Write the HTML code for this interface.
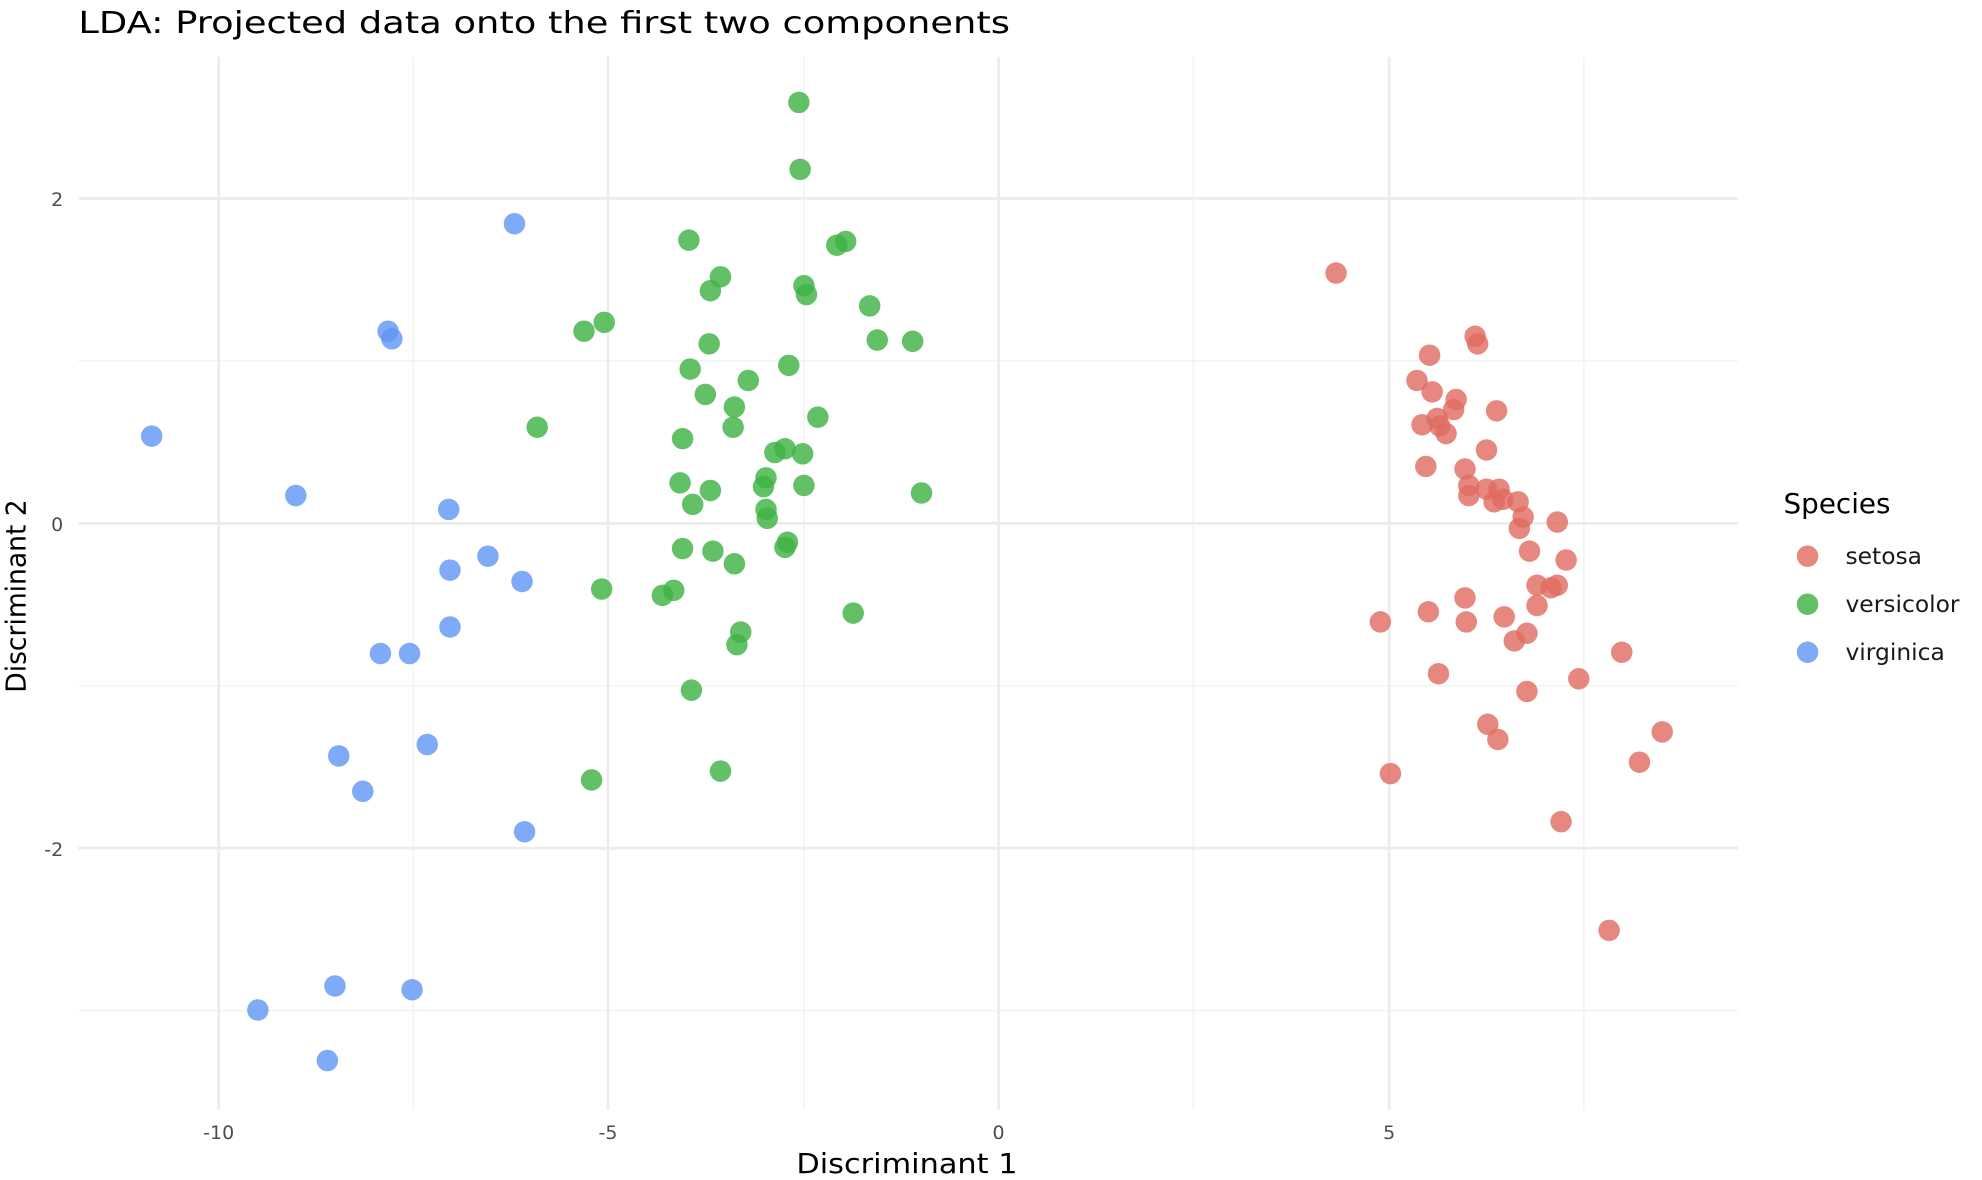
<!DOCTYPE html>
<html><head><meta charset="utf-8"><style>html,body{margin:0;padding:0;background:#fff}svg{display:block}</style></head>
<body>
<svg width="1982" height="1180" viewBox="0 0 1568 933.5" preserveAspectRatio="none" xmlns="http://www.w3.org/2000/svg" font-family="DejaVu Sans, Liberation Sans, sans-serif">
<rect width="1568" height="934" fill="#fff"/>
<g stroke="#f0f0f0" stroke-width="1">
<line x1="327" y1="45" x2="327" y2="878"/><line x1="636" y1="45" x2="636" y2="878"/><line x1="944" y1="45" x2="944" y2="878"/><line x1="1253" y1="45" x2="1253" y2="878"/>
<line x1="62" y1="285.5" x2="1375" y2="285.5"/><line x1="62" y1="542.5" x2="1375" y2="542.5"/><line x1="62" y1="799.5" x2="1375" y2="799.5"/>
</g>
<g stroke="#ebebeb" stroke-width="2">
<line x1="173" y1="45" x2="173" y2="878"/><line x1="481" y1="45" x2="481" y2="878"/><line x1="790" y1="45" x2="790" y2="878"/><line x1="1099" y1="45" x2="1099" y2="878"/>
<line x1="62" y1="157" x2="1375" y2="157"/><line x1="62" y1="414" x2="1375" y2="414"/><line x1="62" y1="671" x2="1375" y2="671"/>
</g>
<text x="62" y="26" font-size="24" fill="#000" textLength="737" lengthAdjust="spacingAndGlyphs">LDA: Projected data onto the first two components</text>
<g font-size="15" fill="#4d4d4d" text-anchor="middle">
<text x="173" y="901">-10</text><text x="481" y="901">-5</text><text x="790" y="901">0</text><text x="1099" y="901">5</text>
</g>
<g font-size="15" fill="#4d4d4d" text-anchor="end">
<text x="50" y="163">2</text><text x="50" y="420">0</text><text x="50" y="677">-2</text>
</g>
<text x="630" y="928" font-size="22" textLength="175" lengthAdjust="spacingAndGlyphs">Discriminant 1</text>
<text transform="translate(20,548) rotate(-90)" font-size="22" textLength="153" lengthAdjust="spacingAndGlyphs">Discriminant 2</text>
<text x="1411" y="406" font-size="22">Species</text>
<g font-size="18.5" fill="#1a1a1a">
<text x="1460" y="446">setosa</text><text x="1460" y="484">versicolor</text><text x="1460" y="522">virginica</text>
</g>
<circle cx="1430" cy="440" r="8.5" fill="#e06a5f" fill-opacity="0.8"/>
<circle cx="1430" cy="478" r="8.5" fill="#3fb244" fill-opacity="0.82"/>
<circle cx="1430" cy="516" r="8.5" fill="#5f95f5" fill-opacity="0.8"/>
<g fill="#5f95f5" fill-opacity="0.8">
<circle cx="120" cy="345" r="8.5"/><circle cx="234" cy="392" r="8.5"/><circle cx="407" cy="177" r="8.5"/><circle cx="307" cy="262" r="8.5"/><circle cx="310" cy="268" r="8.5"/><circle cx="355" cy="403" r="8.5"/><circle cx="386" cy="440" r="8.5"/><circle cx="356" cy="451" r="8.5"/><circle cx="413" cy="460" r="8.5"/><circle cx="356" cy="496" r="8.5"/><circle cx="301" cy="517" r="8.5"/><circle cx="324" cy="517" r="8.5"/><circle cx="338" cy="589" r="8.5"/><circle cx="268" cy="598" r="8.5"/><circle cx="287" cy="626" r="8.5"/><circle cx="415" cy="658" r="8.5"/><circle cx="265" cy="780" r="8.5"/><circle cx="326" cy="783" r="8.5"/><circle cx="204" cy="799" r="8.5"/><circle cx="259" cy="839" r="8.5"/>
</g>
<g fill="#3fb244" fill-opacity="0.82">
<circle cx="632" cy="81" r="8.5"/><circle cx="633" cy="134" r="8.5"/><circle cx="545" cy="190" r="8.5"/><circle cx="662" cy="194" r="8.5"/><circle cx="669" cy="191" r="8.5"/><circle cx="570" cy="219" r="8.5"/><circle cx="562" cy="230" r="8.5"/><circle cx="636" cy="226" r="8.5"/><circle cx="638" cy="233" r="8.5"/><circle cx="688" cy="242" r="8.5"/><circle cx="462" cy="262" r="8.5"/><circle cx="478" cy="255" r="8.5"/><circle cx="561" cy="272" r="8.5"/><circle cx="694" cy="269" r="8.5"/><circle cx="722" cy="270" r="8.5"/><circle cx="546" cy="292" r="8.5"/><circle cx="624" cy="289" r="8.5"/><circle cx="592" cy="301" r="8.5"/><circle cx="558" cy="312" r="8.5"/><circle cx="581" cy="322" r="8.5"/><circle cx="425" cy="338" r="8.5"/><circle cx="580" cy="338" r="8.5"/><circle cx="647" cy="330" r="8.5"/><circle cx="540" cy="347" r="8.5"/><circle cx="621" cy="355" r="8.5"/><circle cx="613" cy="358" r="8.5"/><circle cx="635" cy="359" r="8.5"/><circle cx="538" cy="382" r="8.5"/><circle cx="562" cy="388" r="8.5"/><circle cx="606" cy="378" r="8.5"/><circle cx="604" cy="385" r="8.5"/><circle cx="636" cy="384" r="8.5"/><circle cx="729" cy="390" r="8.5"/><circle cx="548" cy="399" r="8.5"/><circle cx="606" cy="403" r="8.5"/><circle cx="607" cy="410" r="8.5"/><circle cx="540" cy="434" r="8.5"/><circle cx="564" cy="436" r="8.5"/><circle cx="623" cy="429" r="8.5"/><circle cx="621" cy="433" r="8.5"/><circle cx="581" cy="446" r="8.5"/><circle cx="476" cy="466" r="8.5"/><circle cx="533" cy="467" r="8.5"/><circle cx="524" cy="471" r="8.5"/><circle cx="675" cy="485" r="8.5"/><circle cx="586" cy="500" r="8.5"/><circle cx="583" cy="510" r="8.5"/><circle cx="547" cy="546" r="8.5"/><circle cx="468" cy="617" r="8.5"/><circle cx="570" cy="610" r="8.5"/>
</g>
<g fill="#e06a5f" fill-opacity="0.8">
<circle cx="1057" cy="216" r="8.5"/><circle cx="1167" cy="266" r="8.5"/><circle cx="1169" cy="272" r="8.5"/><circle cx="1131" cy="281" r="8.5"/><circle cx="1121" cy="301" r="8.5"/><circle cx="1133" cy="310" r="8.5"/><circle cx="1152" cy="316" r="8.5"/><circle cx="1150" cy="324" r="8.5"/><circle cx="1184" cy="325" r="8.5"/><circle cx="1137" cy="331" r="8.5"/><circle cx="1125" cy="336" r="8.5"/><circle cx="1139" cy="337" r="8.5"/><circle cx="1144" cy="343" r="8.5"/><circle cx="1176" cy="356" r="8.5"/><circle cx="1128" cy="369" r="8.5"/><circle cx="1159" cy="371" r="8.5"/><circle cx="1162" cy="384" r="8.5"/><circle cx="1176" cy="387" r="8.5"/><circle cx="1186" cy="387" r="8.5"/><circle cx="1162" cy="392" r="8.5"/><circle cx="1182" cy="397" r="8.5"/><circle cx="1189" cy="395" r="8.5"/><circle cx="1201" cy="397" r="8.5"/><circle cx="1205" cy="409" r="8.5"/><circle cx="1232" cy="413" r="8.5"/><circle cx="1202" cy="418" r="8.5"/><circle cx="1210" cy="436" r="8.5"/><circle cx="1239" cy="443" r="8.5"/><circle cx="1216" cy="463" r="8.5"/><circle cx="1227" cy="465" r="8.5"/><circle cx="1232" cy="463" r="8.5"/><circle cx="1159" cy="473" r="8.5"/><circle cx="1216" cy="479" r="8.5"/><circle cx="1092" cy="492" r="8.5"/><circle cx="1130" cy="484" r="8.5"/><circle cx="1160" cy="492" r="8.5"/><circle cx="1190" cy="488" r="8.5"/><circle cx="1208" cy="501" r="8.5"/><circle cx="1198" cy="507" r="8.5"/><circle cx="1283" cy="516" r="8.5"/><circle cx="1138" cy="533" r="8.5"/><circle cx="1249" cy="537" r="8.5"/><circle cx="1208" cy="547" r="8.5"/><circle cx="1177" cy="573" r="8.5"/><circle cx="1185" cy="585" r="8.5"/><circle cx="1315" cy="579" r="8.5"/><circle cx="1297" cy="603" r="8.5"/><circle cx="1100" cy="612" r="8.5"/><circle cx="1235" cy="650" r="8.5"/><circle cx="1273" cy="736" r="8.5"/>
</g>
</svg>
</body></html>
